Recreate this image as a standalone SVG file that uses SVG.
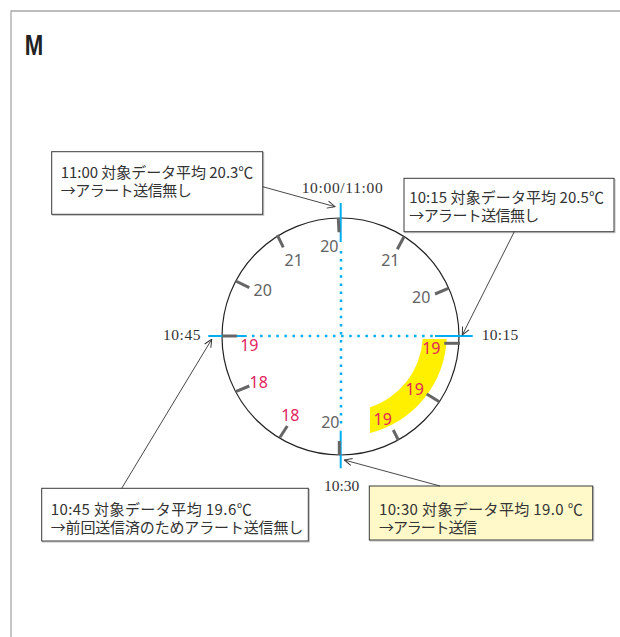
<svg xmlns="http://www.w3.org/2000/svg" width="620" height="637" viewBox="0 0 620 637">
<defs>
<style>
.frame{fill:none;stroke:#a8a8a8;stroke-width:1.3}
.box{fill:#fff;stroke:#3a3a3a;stroke-width:1}
.box.hl{fill:#fff9c9}
.shadow{fill:none;stroke:#bbb;stroke-width:1}
.jp{font-family:"Noto Sans CJK JP","Noto Sans",sans-serif;font-size:15px;fill:#333}
.time{font-family:"Liberation Serif",serif;font-size:15.5px;fill:#333}
.num{font-family:"Noto Sans","Liberation Sans",sans-serif;font-size:16px}
.g{fill:#636363}
.r{fill:#e3245d}
.tick{stroke:#666;stroke-width:3;fill:none}
.blue{stroke:#00aeef;stroke-width:2;fill:none}
.dots{stroke:#00aeef;stroke-width:2.5;stroke-dasharray:2.5 5.6;fill:none}
.conn{stroke:#333;stroke-width:0.9;fill:none;marker-end:url(#arr)}
</style>
<marker id="arr" viewBox="0 0 10 10" refX="9.5" refY="5" markerWidth="9" markerHeight="9" markerUnits="userSpaceOnUse" orient="auto">
<path d="M1,1 L9.5,5 L1,9" fill="none" stroke="#333" stroke-width="1.1"/>
</marker>
</defs>
<rect width="620" height="637" fill="#fff"/>
<path class="frame" d="M11,637 V11 H620"/>
<text x="24.7" y="55" font-family="Liberation Sans, Arial, sans-serif" font-weight="bold" font-size="30" fill="#222" textLength="18.5" lengthAdjust="spacingAndGlyphs">M</text>

<g id="clock">
<path d="M446.7,339 A101.5,101.5 0 0 1 370,433 L370,407.3 A77,77 0 0 0 422.7,339 Z" fill="#fff000"/>
<circle cx="340.5" cy="336.5" r="118.5" fill="none" stroke="#222" stroke-width="1.2"/>
<line class="dots" x1="252" y1="336" x2="433" y2="336"/>
<line class="dots" x1="341" y1="251" x2="341" y2="429"/>
<line class="blue" x1="340.7" y1="203" x2="340.7" y2="242"/>
<line class="blue" x1="208.3" y1="336" x2="246.7" y2="336"/>
<line class="blue" x1="435" y1="336" x2="472.7" y2="336"/>
<line class="blue" x1="340.7" y1="430.7" x2="340.7" y2="468.3" stroke-width="4"/>
<g class="tick">
<line x1="338.3" y1="218.3" x2="339" y2="232.3"/>
<line x1="277.3" y1="235" x2="283.3" y2="247.3"/>
<line x1="235.7" y1="281" x2="249.3" y2="287.7"/>
<line x1="222.3" y1="336" x2="236.7" y2="336"/>
<line x1="235.7" y1="391.7" x2="249.3" y2="386"/>
<line x1="280" y1="437.3" x2="287.3" y2="426"/>
<line x1="339.3" y1="455" x2="339.3" y2="441"/>
<line x1="398.3" y1="440" x2="393.3" y2="430"/>
<line x1="439.3" y1="401.7" x2="426.7" y2="394"/>
<line x1="460" y1="343.3" x2="444.3" y2="343.3"/>
<line x1="448.3" y1="288.3" x2="435" y2="294"/>
<line x1="404" y1="236.7" x2="397.3" y2="249.3"/>
</g>
<g class="num g">
<text x="320.2" y="251.7">20</text>
<text x="284.5" y="266">21</text>
<text x="253.5" y="295.7">20</text>
<text x="381.2" y="266">21</text>
<text x="412" y="302.7">20</text>
<text x="321.2" y="428.3">20</text>
</g>
<g class="num r">
<text x="240.2" y="350.7">19</text>
<text x="249.5" y="388.3">18</text>
<text x="281.2" y="420.7">18</text>
<text x="422.2" y="354">19</text>
<text x="405.5" y="395">19</text>
<text x="373.5" y="425">19</text>
</g>
<g class="time">
<text x="301.7" y="192.7" textLength="81">10:00/11:00</text>
<text x="163" y="340" textLength="37.5">10:45</text>
<text x="481.7" y="340" textLength="36.6">10:15</text>
<text x="324" y="491" textLength="35.3">10:30</text>
</g>
</g>

<g id="box-1100">
<rect class="shadow" x="52.7" y="152.7" width="211" height="62.6"/>
<rect class="box" x="51.7" y="151.7" width="211" height="62.6"/>
<text class="jp" x="60.7" y="178.3" textLength="192.6">11:00 対象データ平均 20.3℃</text>
<text class="jp" x="60.7" y="195.7" textLength="131">→アラート送信無し</text>
</g>

<g id="box-1015">
<rect class="shadow" x="405" y="179.3" width="210" height="53.4"/>
<rect class="box" x="404" y="178.3" width="210" height="53.4"/>
<text class="jp" x="409.3" y="203.3" textLength="194.7">10:15 対象データ平均 20.5℃</text>
<text class="jp" x="409.3" y="220.7" textLength="130">→アラート送信無し</text>
</g>

<g id="box-1045">
<rect class="shadow" x="42.7" y="489.3" width="266.6" height="52.7"/>
<rect class="box" x="41.7" y="488.3" width="266.6" height="52.7"/>
<text class="jp" x="50.7" y="515" textLength="201">10:45 対象データ平均 19.6℃</text>
<text class="jp" x="50.7" y="532.7" textLength="252.6">→前回送信済のためアラート送信無し</text>
</g>

<g id="box-1030">
<rect class="shadow" x="370.3" y="487" width="223.4" height="54"/>
<rect class="box hl" x="369.3" y="486" width="223.4" height="54"/>
<text class="jp" x="379" y="515" textLength="203.7">10:30 対象データ平均 19.0 ℃</text>
<text class="jp" x="379" y="532.7" textLength="98.3">→アラート送信</text>
</g>

<g id="connectors">
<line class="conn" x1="262.7" y1="186.7" x2="335" y2="206.7"/>
<line class="conn" x1="514.3" y1="231.7" x2="462.3" y2="335"/>
<line class="conn" x1="121.7" y1="488.3" x2="211.7" y2="339.3"/>
<line class="conn" x1="440" y1="486" x2="344.3" y2="460"/>
</g>
</svg>
